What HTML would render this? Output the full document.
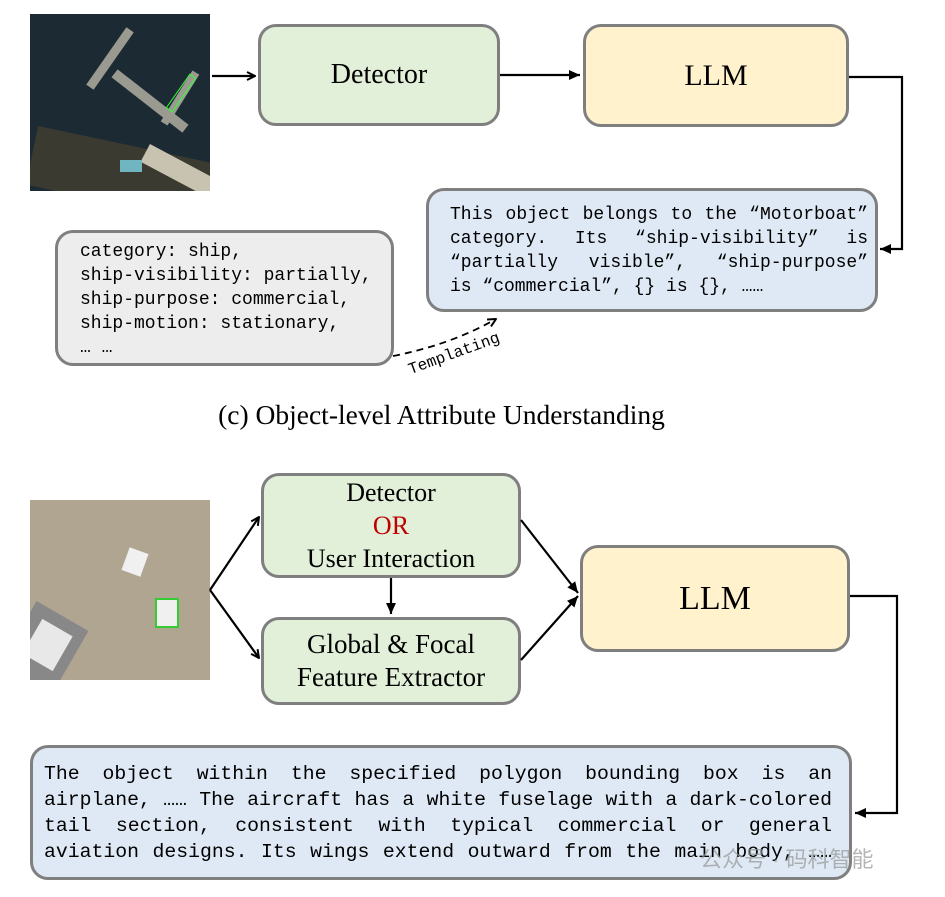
<!DOCTYPE html>
<html><head><meta charset="utf-8"><style>
body{margin:0;background:#fff;width:945px;height:897px;position:relative;overflow:hidden;font-family:"Liberation Serif",serif}
.b{position:absolute;box-sizing:border-box;border:3px solid #7f7f7f;border-radius:18px}
.g{background:#e2efd9}.y{background:#fff2cc}.bl{background:#dee9f5}.gr{background:#ededed}
.c{display:flex;align-items:center;justify-content:center;text-align:center;color:#000}
.m{font-family:"Liberation Mono",monospace;position:absolute;color:#000;white-space:pre}
.j{font-family:"Liberation Mono",monospace;position:absolute;text-align:justify;text-align-last:justify;color:#000}
</style></head><body>
<!-- top image -->
<div style="position:absolute;left:30px;top:14px;width:180px;height:177px;background:#1c2a33;overflow:hidden">
 <div style="position:absolute;left:75px;top:82px;width:90px;height:10px;background:#9a9a90;transform:rotate(38deg)"></div>
 <div style="position:absolute;left:45px;top:40px;width:70px;height:9px;background:#9a9a90;transform:rotate(-55deg)"></div>
 <div style="position:absolute;left:120px;top:80px;width:60px;height:8px;background:#9a9a90;transform:rotate(-58deg)"></div>
 <div style="position:absolute;left:0;top:130px;width:180px;height:60px;background:#3a3a30;transform:rotate(12deg)"></div>
 <div style="position:absolute;left:110px;top:150px;width:90px;height:20px;background:#c8c2b0;transform:rotate(28deg)"></div>
 <div style="position:absolute;left:90px;top:146px;width:22px;height:12px;background:#6fb6c0"></div>
 <div style="position:absolute;left:130px;top:75px;width:40px;height:6px;border:1px solid #3f3;transform:rotate(-55deg)"></div>
</div>
<div class="b g c" style="left:258px;top:24px;width:242px;height:102px;font-size:28px">Detector</div>
<div class="b y c" style="left:583px;top:24px;width:266px;height:103px;font-size:30px">LLM</div>
<div class="b bl" style="left:426px;top:188px;width:452px;height:124px"></div>
<div class="j" style="left:450px;top:203px;width:418px;font-size:18px;line-height:24px">This object belongs to the “Motorboat” category. Its “ship-visibility” is “partially visible”, “ship-purpose”</div>
<div class="m" style="left:450px;top:275px;font-size:18px;line-height:24px">is “commercial”, {} is {}, ……</div>
<div class="b gr" style="left:55px;top:230px;width:339px;height:136px"></div>
<div class="m" style="left:80px;top:240px;font-size:18px;line-height:24px">category: ship,
ship-visibility: partially,
ship-purpose: commercial,
ship-motion: stationary,
… …</div>
<div style="position:absolute;left:0;width:883px;top:399px;text-align:center;font-size:27.5px">(c) Object-level Attribute Understanding</div>
<div class="m" style="left:406px;top:362px;font-size:16px;transform:rotate(-20deg);transform-origin:left top">Templating</div>

<!-- bottom image -->
<div style="position:absolute;left:30px;top:500px;width:180px;height:180px;background:#b0a590;overflow:hidden">
 <div style="position:absolute;left:-20px;top:110px;width:60px;height:90px;background:#888;transform:rotate(30deg)"></div>
 <div style="position:absolute;left:0;top:125px;width:35px;height:40px;background:#e8e8e8;transform:rotate(30deg)"></div>
 <div style="position:absolute;left:95px;top:50px;width:20px;height:24px;background:#f0f0f0;transform:rotate(20deg)"></div>
 <div style="position:absolute;left:125px;top:98px;width:20px;height:26px;background:#f0f0f0;border:2px solid #3c3"></div>
</div>
<div class="b g c" style="left:261px;top:473px;width:260px;height:105px;font-size:26px;line-height:33px"><div>Detector<br><span style="color:#c00000">OR</span><br>User Interaction</div></div>
<div class="b g c" style="left:261px;top:617px;width:260px;height:88px;font-size:27px;line-height:33px"><div>Global &amp; Focal<br>Feature Extractor</div></div>
<div class="b y c" style="left:580px;top:545px;width:270px;height:107px;font-size:34px">LLM</div>
<div class="b bl" style="left:30px;top:745px;width:822px;height:135px"></div>
<div class="j" style="left:44px;top:761px;width:788px;font-size:19.8px;line-height:26px">The object within the specified polygon bounding box is an airplane, …… The aircraft has a white fuselage with a dark-colored tail section, consistent with typical commercial or general aviation designs. Its wings extend outward from the main body, ……</div>
<div style="position:absolute;left:700px;top:842px;font-family:'Liberation Sans','Noto Sans CJK SC',sans-serif;font-size:22px;color:rgba(150,150,150,.7)">公众号 · 码科智能</div>

<svg width="945" height="897" style="position:absolute;left:0;top:0" fill="none" stroke="#000" stroke-width="2.2">
<defs><marker id="a" markerWidth="10" markerHeight="10" refX="9" refY="5" orient="auto" markerUnits="userSpaceOnUse"><path d="M1,1 L9,5 L1,9" stroke="#000" stroke-width="2" fill="none"/></marker>
<marker id="f" markerWidth="12" markerHeight="12" refX="11" refY="6" orient="auto" markerUnits="userSpaceOnUse"><path d="M0,1 L11,6 L0,11 Z" fill="#000" stroke="none"/></marker></defs>
<path d="M212,76 H255" marker-end="url(#a)"/>
<path d="M500,75 H580" marker-end="url(#f)"/>
<path d="M849,77 H902 V249 H880" marker-end="url(#f)"/>
<path d="M393,356 Q450,345 496,319" stroke-dasharray="7,5" stroke-width="1.8" marker-end="url(#a)"/>
<path d="M210,590 L259,517" marker-end="url(#a)"/>
<path d="M210,590 L259,658" marker-end="url(#a)"/>
<path d="M391,578 V614" marker-end="url(#f)"/>
<path d="M521,520 L578,593" marker-end="url(#f)"/>
<path d="M521,660 L578,596" marker-end="url(#f)"/>
<path d="M850,596 H897 V813 H855" marker-end="url(#f)"/>
</svg>
</body></html>
